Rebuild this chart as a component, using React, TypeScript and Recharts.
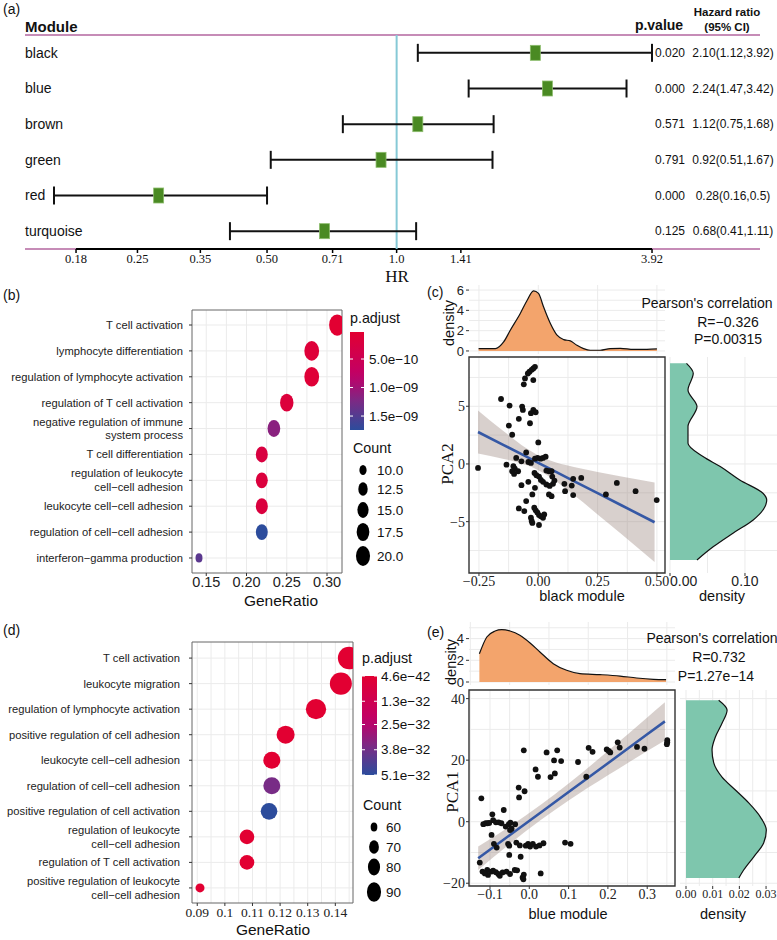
import React from 'react';
import {
  ScatterChart, Scatter, ComposedChart, AreaChart, Area, Line, XAxis, YAxis,
  CartesianGrid, ReferenceLine, ReferenceArea, ErrorBar, Legend,
} from 'recharts';

const SANS = '"Liberation Sans", Arial, Helvetica, sans-serif';
const SERIF = '"Liberation Serif", "Times New Roman", serif';
const GRID = '#ebebeb';

// (a) forest plot
const modules = ['black', 'blue', 'brown', 'green', 'red', 'turquoise'];
const hazard = [2.1, 2.24, 1.12, 0.92, 0.28, 0.68];
const hazardLow = [1.12, 1.47, 0.75, 0.51, 0.16, 0.41];
const hazardHigh = [3.92, 3.42, 1.68, 1.67, 0.5, 1.11];
const pValueText = ['0.020', '0.000', '0.571', '0.791', '0.000', '0.125'];
const hazardText = ['2.10(1.12,3.92)', '2.24(1.47,3.42)', '1.12(0.75,1.68)', '0.92(0.51,1.67)', '0.28(0.16,0.5)', '0.68(0.41,1.11)'];
const hrTicks = [0.18, 0.25, 0.35, 0.5, 0.71, 1, 1.41, 3.92];
const hrTickText = ['0.18', '0.25', '0.35', '0.50', '0.71', '1.0', '1.41', '3.92'];

// (b) GO enrichment, black module
const termsB = [
  'T cell activation', 'lymphocyte differentiation', 'regulation of lymphocyte activation',
  'regulation of T cell activation', 'negative regulation of immune\nsystem process', 'T cell differentiation',
  'regulation of leukocyte\ncell\u2212cell adhesion', 'leukocyte cell\u2212cell adhesion',
  'regulation of cell\u2212cell adhesion', 'interferon\u2212gamma production',
];
const ratioB = [0.3125, 0.281, 0.281, 0.25, 0.234, 0.219, 0.219, 0.219, 0.219, 0.141];
const countB = [20, 18, 18, 16, 15, 14, 14, 14, 14, 9];
const padjB = [2.6e-11, 1.2e-10, 1.0e-10, 1.6e-10, 1.15e-9, 2.2e-10, 1.8e-10, 2.0e-10, 1.745e-9, 1.45e-9];
const ratioTicksB = [0.15, 0.2, 0.25, 0.3];
const ratioTickTextB = ['0.15', '0.20', '0.25', '0.30'];
const padjTicksB = [5e-10, 1e-9, 1.5e-9];
const padjTickTextB = ['5.0e\u221210', '1.0e\u221209', '1.5e\u221209'];
const countLegendB = [10, 12.5, 15, 17.5, 20];
const countLegendTextB = ['10.0', '12.5', '15.0', '17.5', '20.0'];

// (d) GO enrichment, blue module
const termsD = [
  'T cell activation', 'leukocyte migration', 'regulation of lymphocyte activation',
  'positive regulation of cell adhesion', 'leukocyte cell\u2212cell adhesion', 'regulation of cell\u2212cell adhesion',
  'positive regulation of cell activation', 'regulation of leukocyte\ncell\u2212cell adhesion',
  'regulation of T cell activation', 'positive regulation of leukocyte\ncell\u2212cell adhesion',
];
const ratioD = [0.145, 0.142, 0.133, 0.122, 0.117, 0.117, 0.116, 0.108, 0.108, 0.091];
const countD = [93, 91, 85, 78, 75, 75, 74, 69, 69, 58];
const padjD = [4.6e-42, 2e-40, 1e-37, 3e-36, 8e-35, 3.67e-32, 5.1e-32, 1.2e-34, 2e-34, 5e-35];
const ratioTicksD = [0.09, 0.1, 0.11, 0.12, 0.13, 0.14];
const ratioTickTextD = ['0.09', '0.1', '0.11', '0.12', '0.13', '0.14'];
const padjTicksD = [4.6e-42, 1.3e-32, 2.5e-32, 3.8e-32, 5.1e-32];
const padjTickTextD = ['4.6e\u221242', '1.3e\u221232', '2.5e\u221232', '3.8e\u221232', '5.1e\u221232'];
const countLegendD = [60, 70, 80, 90];

// (c) black module vs PCA2
const blackModule = [
  -0.014, -0.021, -0.028, -0.037, -0.044, -0.056, -0.061, -0.021,
  -0.157, -0.121, -0.068, -0.065, -0.021, -0.011, -0.031, -0.082, -0.035, -0.124, -0.110, 0.0,
  -0.254, -0.134, -0.093, -0.051, -0.105, -0.099, -0.110, -0.102, -0.085, -0.071, -0.042, -0.031, -0.014, -0.003, 0.010, 0.020, 0.031, 0.034, 0.045, 0.056,
  -0.016, -0.008, 0.003, 0.011, 0.020, 0.034, 0.048, 0.062, 0.068, 0.059,
  0.110, 0.113, 0.141, 0.147, 0.147, 0.181, 0.285, 0.331, 0.410, 0.499,
  -0.071, -0.042, -0.014, -0.025, -0.051, -0.082, -0.059, -0.017, -0.011, -0.004, 0.003, 0.011, 0.020, 0.025, -0.031, -0.028, -0.025, 0.003, 0.056, 0.045,
];
const pca2 = [
  8.42, 8.28, 8.16, 7.99, 7.84, 7.41, 6.9, 7.27,
  5.63, 5.06, 4.97, 4.68, 4.68, 4.48, 4.4, 3.91, 3.53, 3.33, 2.53, 1.87,
  -0.34, -0.06, 0.52, 1.0, -0.2, -0.4, -0.63, -0.86, -0.63, 0.23, 0.17, 0.09, 0.46, 0.52, 0.46, 0.52, 0.63, -0.57, -0.63, -0.63,
  -0.78, -0.98, -1.09, -1.38, -1.55, -1.78, -1.9, -1.72, -1.44, -1.09,
  -1.72, -2.36, -1.87, -1.29, -2.7, -1.21, -2.64, -1.64, -2.36, -3.13,
  -1.84, -1.55, -2.07, -2.64, -3.22, -3.85, -4.08, -3.79, -4.02, -4.2, -4.43, -4.54, -4.66, -4.37, -4.66, -4.94, -5.11, -5.29, -2.79, -2.64,
];
const fitXC = [-0.254, -0.15, -0.05, 0, 0.05, 0.15, 0.25, 0.35, 0.49];
const fitC = [2.77, 1.68, 0.63, 0.1, -0.43, -1.48, -2.53, -3.58, -5.05];
const fitLowC = [0.9, 0.46, -0.1, -0.54, -1.16, -2.7, -4.37, -6.08, -8.49];
const fitHighC = [4.64, 2.9, 1.36, 0.74, 0.3, -0.26, -0.69, -1.08, -1.61];
const densBlackX = [-0.2515, -0.181, -0.146, -0.118, -0.076, -0.048, -0.02, 0.001, 0.022, 0.051, 0.079, 0.107, 0.135, 0.163, 0.191, 0.219, 0.261, 0.303, 0.346, 0.402, 0.458, 0.5];
const densBlackY = [0.23, 0.23, 0.89, 2.04, 3.69, 4.95, 5.93, 5.67, 4.35, 2.7, 1.55, 1.12, 0.99, 0.56, 0.23, 0.07, 0.07, 0.23, 0.26, 0.16, 0.16, 0.2];
const sidePca2 = [8.72, 7.86, 6.41, 4.97, 3.24, 1.79, 0.64, -0.23, -1.39, -2.54, -3.12, -3.99, -4.85, -6.0, -7.16, -8.32];
const sideDensC = [0.022, 0.031, 0.024, 0.036, 0.024, 0.024, 0.044, 0.067, 0.093, 0.124, 0.129, 0.124, 0.111, 0.084, 0.058, 0.036];

// (e) blue module vs PCA1
const blueModule = [
  0.351, 0.351, 0.35, 0.293, 0.274, 0.23, 0.225, 0.206, 0.197, 0.202,
  0.161, 0.151, 0.145, 0.124, 0.105, 0.091, 0.071, 0.063, 0.081, 0.065,
  0.054, 0.044, 0.022, 0.016, -0.014, -0.012, -0.026, -0.027, -0.122, -0.094,
  -0.065, -0.117, -0.111, -0.106, -0.102, -0.085, -0.078, -0.06, -0.052, -0.048,
  -0.045, -0.036, -0.096, -0.09, -0.083, -0.054, -0.051, -0.033, -0.024, -0.051,
  -0.022, -0.009, -0.003, 0.002, 0.009, 0.017, 0.026, 0.036, -0.126, -0.119,
  -0.107, -0.105, -0.096, -0.092, -0.085, -0.079, -0.075, -0.068, -0.058, -0.049,
  -0.037, -0.031, -0.017, -0.014, -0.015, 0.029, -0.113, -0.071, -0.049, -0.092,
];
const pca1 = [
  26.5, 25.8, 25.2, 23.7, 24.3, 24.1, 25.8, 22.5, 23.5, 23.0,
  22.7, 24.0, 14.6, 19.4, -7.2, -6.8, 23.2, 19.9, 19.7, 15.7,
  14.5, 22.5, 14.6, 17.0, 23.2, 9.9, 7.9, 11.1, 7.6, 2.4,
  3.8, -0.8, -0.5, -0.5, -0.4, -0.2, -0.2, -1.6, -0.8, -0.3,
  -2.3, -0.8, -4.3, -7.2, -8.4, -7.2, -7.8, -6.8, -7.7, -10.8,
  -11.4, -7.8, -7.2, -8.1, -7.2, -8.1, -7.7, -7.0, -13.3, -16.2,
  -15.7, -17.3, -16.2, -15.9, -16.4, -17.0, -17.6, -16.5, -16.2, -17.0,
  -15.7, -15.8, -18.1, -17.2, -18.7, -16.8, -16.8, -0.5, -2.7, 0.5,
];
const fitXE = [-0.13, -0.05, 0.03, 0.1, 0.2, 0.3, 0.345];
const fitE = [-11.9, -4.4, 3.09, 9.65, 19.0, 28.4, 32.6];
const fitLowE = [-15.7, -7.26, 0.62, 6.88, 15.06, 22.94, 26.4];
const fitHighE = [-8.1, -1.54, 5.56, 12.42, 22.94, 33.86, 38.8];
const densBlueX = [-0.127, -0.108, -0.087, -0.07, -0.049, -0.024, 0.002, 0.027, 0.061, 0.095, 0.129, 0.18, 0.231, 0.273, 0.316, 0.348];
const densBlueY = [2.6, 4.15, 4.7, 4.83, 4.7, 4.31, 3.6, 2.77, 1.69, 1.08, 0.77, 0.68, 0.55, 0.37, 0.25, 0.22];
const sidePca1 = [39.5, 36.3, 32, 27.5, 23.3, 19.1, 14.5, 10.3, 6.1, 1.5, -2.7, -6.9, -11.4, -15.7, -18.3];
const sideDensE = [0.01225, 0.0154, 0.0135, 0.011, 0.00975, 0.0104, 0.0135, 0.0185, 0.0235, 0.0279, 0.0301, 0.0291, 0.0254, 0.0216, 0.0198];

const rows = [1, 2, 3, 4, 5, 6, 7, 8, 9, 10];

function padjColor(t: number) {
  const stops: [number, number[]][] = [[0, [226, 0, 50]], [0.45, [192, 0, 104]], [0.72, [120, 44, 134]], [1, [44, 76, 156]]];
  const u = Math.max(0, Math.min(1, t));
  for (let i = 1; i < stops.length; i++) {
    if (u <= stops[i][0]) {
      const [t0, c0] = stops[i - 1];
      const [t1, c1] = stops[i];
      const f = (u - t0) / (t1 - t0);
      return `rgb(${c0.map((v, k) => Math.round(v + (c1[k] - v) * f)).join(',')})`;
    }
  }
  return 'rgb(44,76,156)';
}

// dot radius from gene count (area grows linearly with count)
const radiusB = (c: number) => Math.sqrt((38 + 14.8 * (c - 9)) / Math.PI);
const radiusD = (c: number) => Math.sqrt((63.6 + 9.6 * (c - 58)) / Math.PI);

function Txt({ x, y, text, size = 14, anchor = 'start', font = SANS, weight = 400, rotate = false }: any) {
  const tx = anchor === 'middle' ? '-50%' : anchor === 'end' ? '-100%' : '0%';
  return (
    <div style={{
      position: 'absolute', left: x, top: y, transform: `translate(${tx}, -50%)${rotate ? ' rotate(-90deg)' : ''}`,
      fontSize: size, fontFamily: font, fontWeight: weight, lineHeight: 1, whiteSpace: 'nowrap', color: '#111',
    }}>{text}</div>
  );
}

function ForestPlot() {
  const data = modules.map((m, i) => ({
    name: m, hr: hazard[i], row: i + 1, err: [hazard[i] - hazardLow[i], hazardHigh[i] - hazard[i]],
  }));
  const rowTick = (p: any) => {
    const i = p.payload.value - 1;
    return (
      <g>
        <text x={25} y={p.y} dy="0.35em" fontSize={14} fontFamily={SANS} fill="#111">{modules[i]}</text>
        <text x={685} y={p.y} dy="0.35em" textAnchor="end" fontSize={12} fontFamily={SANS} fill="#111">{pValueText[i]}</text>
        <text x={733} y={p.y} dy="0.35em" textAnchor="middle" fontSize={12} fontFamily={SANS} fill="#111">{hazardText[i]}</text>
      </g>
    );
  };
  const square = (p: any) => (
    <rect x={p.cx - 5} y={p.cy - 7.5} width={10} height={15} fill="#4a8a23" stroke="#8cbc6c" strokeWidth={0.8} />
  );
  return (
    <div style={{ position: 'absolute', left: 0, top: 0 }}>
      <ScatterChart width={777} height={290} margin={{ top: 35, right: 17, bottom: 11, left: 0 }}>
        <XAxis type="number" dataKey="hr" scale="log" domain={[0.137, 6.984]} allowDataOverflow ticks={hrTicks} interval={0}
          tickFormatter={(v: number) => hrTickText[hrTicks.indexOf(v)]} axisLine={false}
          tickLine={{ stroke: '#000', strokeWidth: 1.5 }} tickSize={4} tickMargin={1} height={30}
          tick={{ fontSize: 12.5, fontFamily: SERIF, fill: '#111' }} />
        <YAxis type="number" dataKey="row" domain={[0.5, 6.5]} reversed allowDataOverflow ticks={[1, 2, 3, 4, 5, 6]} interval={0}
          width={25} axisLine={false} tickLine={false} tick={rowTick} />
        <ReferenceLine y={0.5} stroke="#b3669f" strokeWidth={1.5} ifOverflow="visible" />
        <ReferenceLine y={6.5} stroke="#b3669f" strokeWidth={1.5} ifOverflow="visible" />
        <ReferenceLine segment={[{ x: 0.18, y: 6.5 }, { x: 3.92, y: 6.5 }]} stroke="#000" strokeWidth={2} ifOverflow="visible" />
        <ReferenceLine x={1} stroke="#86c9d6" strokeWidth={2} />
        <Scatter data={data} isAnimationActive={false} shape={square}>
          <ErrorBar dataKey="err" direction="x" width={9} stroke="#111" strokeWidth={2} isAnimationActive={false} />
        </Scatter>
      </ScatterChart>
    </div>
  );
}

function EnrichLegend({ ox, oy, w, h, id, titleY, barX, barW, barY0, barY1, padjRange, padjTicks, padjText, labelX,
  countTitleX, countTitleY, counts, countText, countYs, dotX, countLabelX, radius, rxf, ryf }: any) {
  const stopsAt = [0, 0.1, 0.2, 0.3, 0.4, 0.5, 0.6, 0.7, 0.8, 0.9, 1];
  const yOf = (v: number) => barY0 + (v - padjRange[0]) / (padjRange[1] - padjRange[0]) * (barY1 - barY0);
  return (
    <svg width={w} height={h} viewBox={`${ox} ${oy} ${w} ${h}`} style={{ overflow: 'visible', display: 'block' }}>
      <defs>
        <linearGradient id={id} x1="0" y1="0" x2="0" y2="1">
          {stopsAt.map((s) => <stop key={s} offset={s} stopColor={padjColor(s)} />)}
        </linearGradient>
      </defs>
      <text x={barX} y={titleY} dy="0.35em" fontSize={14.3} fontFamily={SANS} fill="#111">p.adjust</text>
      <rect x={barX} y={barY0} width={barW} height={barY1 - barY0} fill={`url(#${id})`} />
      {padjTicks.map((v: number, i: number) => (
        <g key={i}>
          <line x1={barX} x2={barX + 3} y1={yOf(v)} y2={yOf(v)} stroke="#fff" strokeWidth={1} />
          <line x1={barX + barW - 3} x2={barX + barW} y1={yOf(v)} y2={yOf(v)} stroke="#fff" strokeWidth={1} />
          <text x={labelX} y={yOf(v)} dy="0.35em" fontSize={13.5} fontFamily={SANS} fill="#111">{padjText[i]}</text>
        </g>
      ))}
      <text x={countTitleX} y={countTitleY} dy="0.35em" fontSize={14.3} fontFamily={SANS} fill="#111">Count</text>
      {counts.map((c: number, i: number) => (
        <g key={c}>
          <ellipse cx={dotX} cy={countYs[i]} rx={radius(c) * rxf} ry={radius(c) * ryf} fill="#000" />
          <text x={countLabelX} y={countYs[i]} dy="0.35em" fontSize={13.5} fontFamily={SANS} fill="#111">{countText[i]}</text>
        </g>
      ))}
    </svg>
  );
}

function DotPlot({ left, top, width, height, margin, terms, ratios, counts, padj, padjRange, xDomain, yDomain, xTicks, xTickText,
  xMinor, tickFont, tickFontSize, labelMargin, radius, aspect, legend }: any) {
  const data = terms.map((t: string, i: number) => ({ term: t, ratio: ratios[i], row: i + 1, count: counts[i], padj: padj[i] }));
  const dot = (p: any) => {
    const r = radius(p.payload.count);
    const t = (p.payload.padj - padjRange[0]) / (padjRange[1] - padjRange[0]);
    return <ellipse cx={p.cx} cy={p.cy} rx={r} ry={r * aspect} fill={padjColor(t)} />;
  };
  const termTick = (p: any) => {
    const lines = terms[p.payload.value - 1].split('\n');
    const lh = 13.7;
    const y0 = p.y - (lines.length - 1) * lh / 2;
    return (
      <text x={p.x} y={y0} textAnchor="end" fontSize={11.2} fontFamily={SANS} fill="#222">
        {lines.map((l: string, i: number) => (
          <tspan key={i} x={p.x} dy={i === 0 ? '0.35em' : lh}>{l}</tspan>
        ))}
      </text>
    );
  };
  return (
    <div style={{ position: 'absolute', left, top }}>
      <ScatterChart width={width} height={height} margin={margin}>
        <CartesianGrid horizontalValues={rows} verticalValues={[...xTicks, ...xMinor]} stroke={GRID} />
        <XAxis type="number" dataKey="ratio" domain={xDomain} allowDataOverflow ticks={xTicks} interval={0}
          tickFormatter={(v: number) => xTickText[xTicks.indexOf(v)]} height={22} tickSize={3} tickMargin={1}
          axisLine={false} tickLine={{ stroke: '#333' }} tick={{ fontSize: tickFontSize, fontFamily: tickFont, fill: '#222' }} />
        <YAxis type="number" dataKey="row" domain={yDomain} reversed allowDataOverflow ticks={rows} interval={0} width={192}
          tickSize={3} tickMargin={labelMargin} axisLine={false} tickLine={{ stroke: '#333' }} tick={termTick} />
        <Scatter data={data} isAnimationActive={false} shape={dot} />
        <ReferenceArea x1={xDomain[0]} x2={xDomain[1]} y1={yDomain[0]} y2={yDomain[1]} fill="none" fillOpacity={0}
          stroke="#666" strokeWidth={1} ifOverflow="visible" />
        <Legend layout="horizontal" verticalAlign="middle" align="center" content={() => legend}
          wrapperStyle={{ left: legend.props.ox - left, top: legend.props.oy - top, width: legend.props.w, height: legend.props.h }} />
      </ScatterChart>
    </div>
  );
}

function ScatterPanel({ left, top, width, height, margin, xAxisHeight, xDomain, yDomain, xTicks, xTickText, xMinor,
  yTicks, yTickText, yMinor, xs, ys, bx, bFit, bLow, bHigh }: any) {
  const pts = xs.map((x: number, i: number) => ({ x, y: ys[i] }));
  const band = bx.map((x: number, i: number) => ({ x, fit: bFit[i], range: [bLow[i], bHigh[i]] }));
  const point = (p: any) => <circle cx={p.cx} cy={p.cy} r={2.9} fill="#111" />;
  return (
    <div style={{ position: 'absolute', left, top }}>
      <ComposedChart width={width} height={height} margin={margin} data={band}>
        <CartesianGrid verticalValues={[...xTicks, ...xMinor]} horizontalValues={[...yTicks, ...yMinor]} stroke={GRID} />
        <XAxis type="number" dataKey="x" domain={xDomain} allowDataOverflow ticks={xTicks} interval={0}
          tickFormatter={(v: number) => xTickText[xTicks.indexOf(v)]} height={xAxisHeight} tickSize={3} tickMargin={0}
          axisLine={false} tickLine={{ stroke: '#333' }} tick={{ fontSize: 14, fontFamily: SERIF, fill: '#222' }} />
        <YAxis type="number" dataKey="y" domain={yDomain} allowDataOverflow ticks={yTicks} interval={0}
          tickFormatter={(v: number) => yTickText[yTicks.indexOf(v)]} width={49} tickSize={3} tickMargin={1}
          axisLine={false} tickLine={{ stroke: '#333' }} tick={{ fontSize: 14, fontFamily: SERIF, fill: '#222' }} />
        <Scatter data={pts} isAnimationActive={false} shape={point} />
        <Area dataKey="range" type="monotone" stroke="none" fill="#9e8a82" fillOpacity={0.4} isAnimationActive={false} />
        <Line dataKey="fit" type="linear" stroke="#3558a5" strokeWidth={2.6} dot={false} isAnimationActive={false} />
        <ReferenceArea x1={xDomain[0]} x2={xDomain[1]} y1={yDomain[0]} y2={yDomain[1]} fill="none" fillOpacity={0}
          stroke="#333" strokeWidth={1.4} ifOverflow="visible" />
      </ComposedChart>
    </div>
  );
}

function TopDensity({ left, top, width, height, margin, xDomain, yDomain, yTicks, xGrid, yGrid, dx, dy }: any) {
  const data = dx.map((x: number, i: number) => ({ x, d: dy[i] }));
  return (
    <div style={{ position: 'absolute', left, top }}>
      <AreaChart width={width} height={height} margin={margin} data={data}>
        <CartesianGrid verticalValues={xGrid} horizontalValues={yGrid} stroke={GRID} />
        <XAxis type="number" dataKey="x" domain={xDomain} allowDataOverflow hide />
        <YAxis type="number" domain={yDomain} allowDataOverflow ticks={yTicks} interval={0} width={49} tickSize={3}
          tickMargin={2} axisLine={false} tickLine={{ stroke: '#333' }} tick={{ fontSize: 13, fontFamily: SANS, fill: '#222' }} />
        <Area dataKey="d" type="monotone" stroke="#111" strokeWidth={1.2} fill="#f3a46c" fillOpacity={1} baseValue={0}
          isAnimationActive={false} />
      </AreaChart>
    </div>
  );
}

function SideDensity({ left, top, width, height, margin, xAxisHeight, xDomain, yDomain, xTicks, xTickText, tickFont,
  tickFontSize, startFirst, xGrid, yGrid, dv, dd }: any) {
  const data = dv.map((v: number, i: number) => ({ v, d: dd[i] }));
  const tick = (p: any) => (
    <text x={p.x} y={p.y} dy="0.71em" textAnchor={startFirst && p.payload.value === 0 ? 'start' : 'middle'}
      fontSize={tickFontSize} fontFamily={tickFont} fill="#222">
      {xTickText[xTicks.indexOf(p.payload.value)]}
    </text>
  );
  return (
    <div style={{ position: 'absolute', left, top }}>
      <AreaChart layout="vertical" width={width} height={height} margin={margin} data={data}>
        <CartesianGrid verticalValues={xGrid} horizontalValues={yGrid} stroke={GRID} />
        <XAxis type="number" domain={xDomain} allowDataOverflow ticks={xTicks} interval={0} height={xAxisHeight}
          tickSize={3} tickMargin={0} axisLine={false} tickLine={{ stroke: '#333' }} tick={tick} />
        <YAxis type="number" dataKey="v" domain={yDomain} reversed allowDataOverflow hide />
        <Area dataKey="d" type="monotone" stroke="#111" strokeWidth={1.2} fill="#7ec6ad" fillOpacity={1} baseValue={0}
          isAnimationActive={false} />
      </AreaChart>
    </div>
  );
}

export default function App() {
  const legendB = (
    <EnrichLegend ox={340} oy={300} w={80} h={270} id="gradB" titleY={318} barX={350} barW={14} barY0={332} barY1={430}
      padjRange={[2.6e-11, 1.745e-9]} padjTicks={padjTicksB} padjText={padjTickTextB} labelX={369}
      countTitleX={353} countTitleY={448} counts={countLegendB} countText={countLegendTextB} countYs={[470, 489, 510, 532, 556]}
      dotX={363} countLabelX={377} radius={radiusB} rxf={0.88} ryf={1.25} />
  );
  const legendD = (
    <EnrichLegend ox={355} oy={640} w={65} h={270} id="gradD" titleY={658} barX={362} barW={15} barY0={676} barY1={775}
      padjRange={[4.6e-42, 5.1e-32]} padjTicks={padjTicksD} padjText={padjTickTextD} labelX={381}
      countTitleX={363} countTitleY={805} counts={countLegendD} countText={countLegendD.map(String)} countYs={[827, 847, 867, 892]}
      dotX={374} countLabelX={386} radius={radiusD} rxf={0.65} ryf={0.9} />
  );
  return (
    <div style={{ position: 'absolute', left: 0, top: 0, width: 777, height: 940, background: '#fff', overflow: 'hidden' }}>
      <ForestPlot />
      <Txt x={3} y={9} text="(a)" size={14} />
      <Txt x={25} y={26} text="Module" size={15} weight={700} />
      <Txt x={659} y={25} text="p.value" size={14} weight={700} anchor="middle" />
      <Txt x={727} y={13} text="Hazard ratio" size={11.5} weight={700} anchor="middle" />
      <Txt x={727} y={28} text="(95% CI)" size={11.5} weight={700} anchor="middle" />
      <Txt x={397} y={276} text="HR" size={17} font={SERIF} anchor="middle" />

      <DotPlot left={0} top={280} width={420} height={330} margin={{ top: 30, right: 78, bottom: 15, left: 0 }}
        terms={termsB} ratios={ratioB} counts={countB} padj={padjB} padjRange={[2.6e-11, 1.745e-9]}
        xDomain={[0.1323, 0.3186]} yDomain={[0.42, 10.58]} xTicks={ratioTicksB} xTickText={ratioTickTextB}
        xMinor={[0.175, 0.225, 0.275]} tickFont={SANS} tickFontSize={14.5} labelMargin={6} radius={radiusB} aspect={1.33}
        legend={legendB} />
      <Txt x={3} y={295} text="(b)" size={14} />
      <Txt x={281} y={601} text="GeneRatio" size={15.5} anchor="middle" />

      <TopDensity left={420} top={280} width={357} height={86} margin={{ top: 5, right: 112, bottom: 12, left: 0 }}
        xDomain={[-0.292, 0.534]} yDomain={[-0.3, 6.5]} yTicks={[0, 2, 4, 6]}
        xGrid={[-0.25, -0.125, 0, 0.125, 0.25, 0.375, 0.5]} yGrid={[0, 1, 2, 3, 4, 5, 6]} dx={densBlackX} dy={densBlackY} />
      <ScatterPanel left={420} top={350} width={250} height={260} margin={{ top: 7, right: 5, bottom: 7, left: 0 }}
        xAxisHeight={30} xDomain={[-0.292, 0.534]} yDomain={[-9.45, 9.27]}
        xTicks={[-0.25, 0, 0.25, 0.5]} xTickText={['\u22120.25', '0.00', '0.25', '0.50']} xMinor={[-0.125, 0.125, 0.375]}
        yTicks={[-5, 0, 5]} yTickText={['\u22125', '0', '5']} yMinor={[-7.5, -2.5, 2.5, 7.5]}
        xs={blackModule} ys={pca2} bx={fitXC} bFit={fitC} bLow={fitLowC} bHigh={fitHighC} />
      <SideDensity left={660} top={350} width={117} height={260} margin={{ top: 7, right: 0, bottom: 7, left: 10 }}
        xAxisHeight={30} xDomain={[0, 0.1427]} yDomain={[-9.45, 9.27]} xTicks={[0, 0.1]} xTickText={['0.00', '0.10']}
        tickFont={SANS} tickFontSize={14} startFirst xGrid={[0, 0.05, 0.1]} yGrid={[-7.5, -5, -2.5, 0, 2.5, 5, 7.5]}
        dv={sidePca2} dd={sideDensC} />
      <Txt x={427} y={292} text="(c)" size={14} />
      <Txt x={449} y={323} text="density" size={14.5} anchor="middle" rotate />
      <Txt x={707} y={303} text="Pearson's correlation" size={14} anchor="middle" />
      <Txt x={728} y={322} text={'R=\u22120.326'} size={14} anchor="middle" />
      <Txt x={728} y={339} text="P=0.00315" size={14} anchor="middle" />
      <Txt x={447} y={464} text="PCA2" size={17} font={SERIF} anchor="middle" rotate />
      <Txt x={582} y={596} text="black module" size={14.5} anchor="middle" />
      <Txt x={722} y={596} text="density" size={14.5} anchor="middle" />

      <DotPlot left={0} top={610} width={420} height={330} margin={{ top: 32, right: 67, bottom: 15, left: 0 }}
        terms={termsD} ratios={ratioD} counts={countD} padj={padjD} padjRange={[4.6e-42, 5.1e-32]}
        xDomain={[0.0881, 0.1464]} yDomain={[0.37, 10.59]} xTicks={ratioTicksD} xTickText={ratioTickTextD}
        xMinor={[0.095, 0.105, 0.115, 0.125, 0.135, 0.145]} tickFont={SERIF} tickFontSize={13.5} labelMargin={9}
        radius={radiusD} aspect={1} legend={legendD} />
      <Txt x={3} y={630} text="(d)" size={14} />
      <Txt x={273} y={930} text="GeneRatio" size={15.5} anchor="middle" />

      <TopDensity left={420} top={610} width={357} height={86} margin={{ top: 12, right: 102, bottom: 11, left: 0 }}
        xDomain={[-0.1534, 0.3707]} yDomain={[-0.276, 5.53]} yTicks={[0, 2, 4]}
        xGrid={[-0.15, -0.1, -0.05, 0, 0.05, 0.1, 0.15, 0.2, 0.25, 0.3, 0.35]} yGrid={[0, 1, 2, 3, 4, 5]}
        dx={densBlueX} dy={densBlueY} />
      <ScatterPanel left={420} top={680} width={260} height={240} margin={{ top: 10, right: 5, bottom: 6, left: 0 }}
        xAxisHeight={28} xDomain={[-0.1534, 0.3707]} yDomain={[-20.9, 42.8]}
        xTicks={[-0.1, 0, 0.1, 0.2, 0.3]} xTickText={['\u22120.1', '0.0', '0.1', '0.2', '0.3']}
        xMinor={[-0.15, -0.05, 0.05, 0.15, 0.25, 0.35]}
        yTicks={[-20, 0, 20, 40]} yTickText={['\u221220', '0', '20', '40']} yMinor={[-10, 10, 30]}
        xs={blueModule} ys={pca1} bx={fitXE} bFit={fitE} bLow={fitLowE} bHigh={fitHighE} />
      <SideDensity left={670} top={680} width={107} height={240} margin={{ top: 10, right: 0, bottom: 6, left: 10 }}
        xAxisHeight={28} xDomain={[-0.00225, 0.0341]} yDomain={[-20.9, 42.8]} xTicks={[0, 0.01, 0.02, 0.03]}
        xTickText={['0.00', '0.01', '0.02', '0.03']} tickFont={SERIF} tickFontSize={12} startFirst={false}
        xGrid={[0, 0.005, 0.01, 0.015, 0.02, 0.025, 0.03]} yGrid={[-20, -10, 0, 10, 20, 30, 40]}
        dv={sidePca1} dd={sideDensE} />
      <Txt x={427} y={632} text="(e)" size={14} />
      <Txt x={451} y={662} text="density" size={14.5} anchor="middle" rotate />
      <Txt x={712} y={638} text="Pearson's correlation" size={14} anchor="middle" />
      <Txt x={719} y={657} text="R=0.732" size={14} anchor="middle" />
      <Txt x={716} y={676} text={'P=1.27e\u221214'} size={14} anchor="middle" />
      <Txt x={452} y={792} text="PCA1" size={17} font={SERIF} anchor="middle" rotate />
      <Txt x={568} y={914} text="blue module" size={14.5} anchor="middle" />
      <Txt x={723} y={914} text="density" size={14.5} anchor="middle" />
    </div>
  );
}
